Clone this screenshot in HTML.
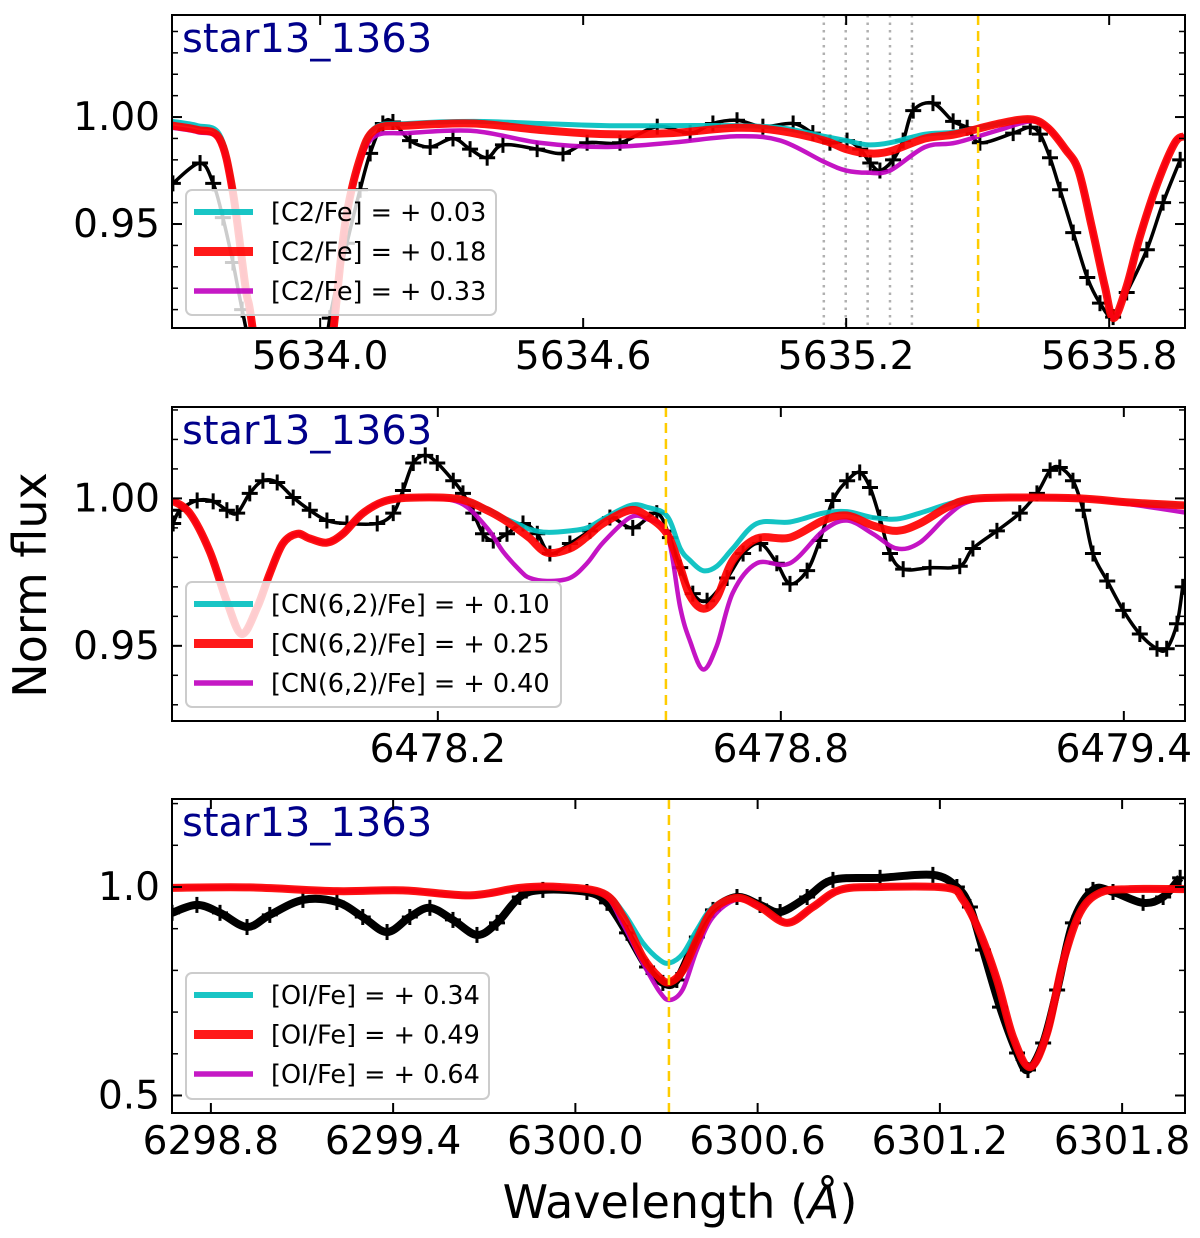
<!DOCTYPE html>
<html>
<head>
<meta charset="utf-8">
<style>
  html,body{margin:0;padding:0;background:#fff;}
  svg{display:block;font-family:"DejaVu Sans","Liberation Sans",sans-serif;}
</style>
</head>
<body>
<svg id="chart" width="1200" height="1238" viewBox="0 0 1200 1238" xmlns="http://www.w3.org/2000/svg"></svg>
<script>
// ---------------- Panel 1 data (C2 5635 Å) ----------------
const p1SynW = [5633.662,5633.72,5633.77,5633.80,5633.83,5633.85,5633.94,5634.01,5634.03,5634.057,5634.09,5634.125,5634.2,5634.35,5634.5,5634.65,5634.8,5634.95,5635.05,5635.15,5635.2,5635.25,5635.3,5635.38,5635.45,5635.55,5635.62,5635.66,5635.70,5635.73,5635.76,5635.79,5635.81,5635.84,5635.87,5635.91,5635.95,5635.973];
const p1Red  = [0.996,0.994,0.990,0.966,0.920,0.895,0.750,0.870,0.900,0.950,0.980,0.994,0.996,0.997,0.994,0.992,0.9925,0.995,0.9935,0.989,0.985,0.983,0.984,0.990,0.992,0.997,0.999,0.995,0.985,0.975,0.949,0.921,0.906,0.921,0.944,0.969,0.988,0.991];
const p1Cyan = [0.998,0.996,0.992,0.968,0.920,0.895,0.750,0.870,0.900,0.950,0.980,0.995,0.997,0.998,0.997,0.996,0.996,0.996,0.995,0.991,0.989,0.987,0.988,0.992,0.993,0.997,0.999,0.995,0.985,0.975,0.949,0.921,0.906,0.921,0.944,0.969,0.988,0.991];
const p1Mag  = [0.995,0.993,0.989,0.964,0.920,0.895,0.750,0.870,0.900,0.950,0.978,0.991,0.9925,0.9935,0.988,0.986,0.988,0.991,0.989,0.979,0.975,0.974,0.975,0.986,0.988,0.994,0.998,0.995,0.985,0.975,0.949,0.921,0.906,0.921,0.944,0.969,0.988,0.991];
const p1ObsW = [5633.664,5633.726,5633.756,5633.778,5633.801,5633.822,5633.863,5633.943,5634.0,5634.022,5634.061,5634.091,5634.114,5634.143,5634.166,5634.205,5634.251,5634.303,5634.342,5634.381,5634.417,5634.495,5634.554,5634.609,5634.684,5634.769,5634.844,5634.896,5634.951,5635.010,5635.079,5635.124,5635.163,5635.202,5635.232,5635.255,5635.277,5635.307,5635.330,5635.353,5635.398,5635.444,5635.476,5635.505,5635.581,5635.620,5635.642,5635.665,5635.688,5635.718,5635.750,5635.779,5635.809,5635.840,5635.886,5635.923,5635.962];
const p1ObsF = [0.969,0.9785,0.969,0.953,0.932,0.910,0.870,0.800,0.870,0.906,0.941,0.966,0.983,0.997,0.9977,0.989,0.986,0.990,0.985,0.981,0.987,0.985,0.983,0.988,0.988,0.9955,0.9925,0.997,0.9985,0.9955,0.997,0.9925,0.988,0.989,0.985,0.9785,0.975,0.980,0.989,1.003,1.0065,0.998,0.995,0.988,0.9925,0.9953,0.992,0.981,0.966,0.946,0.925,0.913,0.9065,0.918,0.938,0.960,0.980];
const p1Ticks = [5634.0,5634.6,5635.2,5635.8];
const p1TickLabels = ["5634.0","5634.6","5635.2","5635.8"];
const p1YTicks = [0.95,1.00];
const p1YTickLabels = ["0.95","1.00"];
const p1Dotted = [5635.149,5635.199,5635.249,5635.300,5635.350];
const p1Yellow = [5635.501];
const p1Legend = ["[C2/Fe] = + 0.03","[C2/Fe] = + 0.18","[C2/Fe] = + 0.33"];

// ---------------- Panel 2 data (CN 6478 Å) ----------------
const p2SynW = [6477.735,6477.766,6477.801,6477.831,6477.857,6477.884,6477.906,6477.929,6477.954,6477.976,6478.006,6478.034,6478.069,6478.111,6478.169,6478.239,6478.286,6478.314,6478.344,6478.361,6478.391,6478.431,6478.461,6478.489,6478.536,6478.566,6478.601,6478.624,6478.641,6478.664,6478.688,6478.716,6478.758,6478.816,6478.874,6478.916,6478.961,6479.003,6479.043,6479.091,6479.131,6479.206,6479.323,6479.411,6479.507];
const p2Red  = [0.9993,0.995,0.982,0.965,0.954,0.963,0.9745,0.9847,0.988,0.9864,0.985,0.988,0.995,0.9993,1.0003,0.9997,0.996,0.993,0.989,0.9865,0.9816,0.983,0.987,0.9915,0.996,0.994,0.988,0.9765,0.967,0.9626,0.9663,0.979,0.9864,0.9867,0.9925,0.9942,0.9908,0.989,0.9915,0.997,0.9997,1.0003,1.0,0.9986,0.9976];
const p2Cyan = [0.9993,0.995,0.982,0.965,0.954,0.963,0.9745,0.9847,0.988,0.9864,0.985,0.988,0.995,0.9993,1.0003,0.9997,0.9965,0.9935,0.991,0.9895,0.9885,0.989,0.990,0.993,0.9976,0.997,0.994,0.983,0.979,0.9755,0.977,0.983,0.9915,0.992,0.995,0.9955,0.9935,0.993,0.995,0.998,0.9997,1.0003,1.0,0.9986,0.9976];
const p2Mag  = [0.9993,0.995,0.982,0.965,0.954,0.963,0.9745,0.9847,0.988,0.9864,0.985,0.988,0.995,0.9993,1.0003,0.9985,0.990,0.982,0.9755,0.973,0.972,0.973,0.978,0.985,0.9935,0.993,0.988,0.963,0.9517,0.942,0.950,0.968,0.978,0.978,0.989,0.9925,0.988,0.983,0.985,0.994,0.999,1.0003,1.0,0.998,0.9952];
const p2ObsW = [6477.737,6477.749,6477.779,6477.807,6477.831,6477.849,6477.871,6477.894,6477.919,6477.947,6477.976,6478.006,6478.041,6478.094,6478.122,6478.139,6478.157,6478.178,6478.199,6478.227,6478.244,6478.262,6478.279,6478.297,6478.321,6478.349,6478.374,6478.396,6478.431,6478.466,6478.501,6478.541,6478.583,6478.606,6478.624,6478.646,6478.671,6478.706,6478.734,6478.764,6478.793,6478.816,6478.846,6478.868,6478.891,6478.916,6478.938,6478.956,6478.973,6478.991,6479.014,6479.061,6479.113,6479.136,6479.178,6479.218,6479.248,6479.271,6479.288,6479.311,6479.329,6479.346,6479.371,6479.399,6479.428,6479.458,6479.475,6479.493,6479.503];
const p2ObsF = [0.9915,0.996,0.9993,0.999,0.996,0.995,1.0017,1.006,1.0054,1.0003,0.996,0.9925,0.9915,0.9915,0.995,1.0027,1.012,1.0146,1.012,1.006,1.0017,0.995,0.988,0.9857,0.988,0.9915,0.988,0.9813,0.9847,0.989,0.9935,0.990,0.995,0.9867,0.9765,0.9677,0.9653,0.973,0.9813,0.9847,0.978,0.971,0.9755,0.9857,0.9993,1.006,1.0088,1.0037,0.9935,0.9813,0.976,0.9765,0.977,0.983,0.989,0.995,1.0017,1.0095,1.0105,1.006,0.996,0.9813,0.972,0.962,0.954,0.949,0.949,0.9575,0.970];
const p2Ticks = [6478.2,6478.8,6479.4];
const p2TickLabels = ["6478.2","6478.8","6479.4"];
const p2YTicks = [0.95,1.00];
const p2YTickLabels = ["0.95","1.00"];
const p2Yellow = [6478.599];
const p2Legend = ["[CN(6,2)/Fe] = + 0.10","[CN(6,2)/Fe] = + 0.25","[CN(6,2)/Fe] = + 0.40"];

// ---------------- Panel 3 data ([OI] 6300 Å) ----------------
const p3SynW = [6298.672,6298.928,6299.215,6299.432,6299.653,6299.817,6299.949,6300.091,6300.157,6300.222,6300.278,6300.311,6300.354,6300.400,6300.453,6300.532,6300.608,6300.697,6300.782,6300.871,6301.003,6301.223,6301.276,6301.332,6301.388,6301.441,6301.497,6301.553,6301.605,6301.661,6301.727,6301.826,6302.007];
const p3Red  = [0.998,0.999,0.990,0.992,0.980,0.998,1.0,0.985,0.928,0.832,0.782,0.772,0.800,0.873,0.945,0.974,0.952,0.914,0.952,0.993,1.0,0.998,0.969,0.89,0.777,0.64,0.568,0.65,0.818,0.938,0.986,0.995,0.995];
const p3Cyan = [0.998,0.999,0.990,0.992,0.980,0.998,1.0,0.987,0.940,0.866,0.825,0.818,0.840,0.897,0.952,0.974,0.952,0.914,0.952,0.993,1.0,0.998,0.969,0.89,0.777,0.64,0.568,0.65,0.818,0.938,0.986,0.995,0.995];
const p3Mag  = [0.998,0.999,0.990,0.992,0.977,0.998,1.0,0.983,0.910,0.818,0.748,0.729,0.755,0.849,0.928,0.970,0.952,0.914,0.952,0.993,1.0,0.998,0.969,0.89,0.777,0.64,0.568,0.65,0.818,0.938,0.986,0.995,0.995];
const p3ObsW = [6298.672,6298.754,6298.830,6298.919,6298.994,6299.103,6299.215,6299.300,6299.380,6299.455,6299.521,6299.597,6299.676,6299.742,6299.817,6299.893,6300.038,6300.104,6300.170,6300.236,6300.288,6300.334,6300.400,6300.453,6300.532,6300.608,6300.674,6300.763,6300.848,6301.003,6301.177,6301.256,6301.299,6301.342,6301.398,6301.454,6301.490,6301.540,6301.586,6301.638,6301.704,6301.770,6301.869,6301.935,6301.991];
const p3ObsF = [0.938,0.957,0.938,0.904,0.933,0.969,0.964,0.928,0.892,0.928,0.950,0.921,0.885,0.914,0.976,0.993,0.988,0.962,0.890,0.808,0.770,0.777,0.880,0.945,0.976,0.957,0.940,0.976,1.017,1.022,1.029,1.000,0.952,0.849,0.712,0.602,0.561,0.626,0.753,0.914,0.993,0.988,0.962,0.976,1.022];
const p3Ticks = [6298.8,6299.4,6300.0,6300.6,6301.2,6301.8];
const p3TickLabels = ["6298.8","6299.4","6300.0","6300.6","6301.2","6301.8"];
const p3YTicks = [0.5,1.0];
const p3YTickLabels = ["0.5","1.0"];
const p3Yellow = [6300.308];
const p3Legend = ["[OI/Fe] = + 0.34","[OI/Fe] = + 0.49","[OI/Fe] = + 0.64"];

// ---------------- rendering ----------------
const NS = "http://www.w3.org/2000/svg";
const svg = document.getElementById("chart");
function mk(tag, attrs, parent){
  const e = document.createElementNS(NS, tag);
  for (const k in attrs) e.setAttribute(k, attrs[k]);
  (parent||svg).appendChild(e);
  return e;
}
function linear(d0,d1,r0,r1){ return v => r0 + (v-d0)/(d1-d0)*(r1-r0); }
function smoothPath(pts){
  if (pts.length<2) return "";
  let d = "M"+pts[0][0].toFixed(2)+","+pts[0][1].toFixed(2);
  for (let i=0;i<pts.length-1;i++){
    const p0 = pts[Math.max(0,i-1)], p1 = pts[i], p2 = pts[i+1], p3 = pts[Math.min(pts.length-1,i+2)];
    const c1x = p1[0]+(p2[0]-p0[0])/6, c1y = p1[1]+(p2[1]-p0[1])/6;
    const c2x = p2[0]-(p3[0]-p1[0])/6, c2y = p2[1]-(p3[1]-p1[1])/6;
    d += " C"+c1x.toFixed(2)+","+c1y.toFixed(2)+" "+c2x.toFixed(2)+","+c2y.toFixed(2)+" "+p2[0].toFixed(2)+","+p2[1].toFixed(2);
  }
  return d;
}

const L = 172, R = 1185;
const panels = [
  {id:"c2", top:15, bottom:328, xd:[5633.662,5635.973], yd:[0.9014,1.0477], minorStep:0.01,
   synW:p1SynW, cyan:p1Cyan, red:p1Red, mag:p1Mag, obsW:p1ObsW, obsF:p1ObsF,
   ticks:p1Ticks, tickLabels:p1TickLabels, yticks:p1YTicks, yLabels:p1YTickLabels,
   dotted:p1Dotted, yellow:p1Yellow, legend:p1Legend, leg:{x:186,y:190,w:310,h:125}, obsLW:3.5, mk:8},
  {id:"cn", top:407, bottom:721, xd:[6477.735,6479.507], yd:[0.9245,1.031], minorStep:0.01,
   synW:p2SynW, cyan:p2Cyan, red:p2Red, mag:p2Mag, obsW:p2ObsW, obsF:p2ObsF,
   ticks:p2Ticks, tickLabels:p2TickLabels, yticks:p2YTicks, yLabels:p2YTickLabels,
   dotted:[], yellow:p2Yellow, legend:p2Legend, leg:{x:186,y:582,w:375,h:125}, obsLW:3.5, mk:8},
  {id:"oi", top:799, bottom:1113, xd:[6298.672,6302.007], yd:[0.458,1.211], minorStep:0.1,
   synW:p3SynW, cyan:p3Cyan, red:p3Red, mag:p3Mag, obsW:p3ObsW, obsF:p3ObsF,
   ticks:p3Ticks, tickLabels:p3TickLabels, yticks:p3YTicks, yLabels:p3YTickLabels,
   dotted:[], yellow:p3Yellow, legend:p3Legend, leg:{x:186,y:973,w:303,h:126}, obsLW:8, mk:8}
];

const defs = mk("defs",{});
panels.forEach((P,pi)=>{
  const X = linear(P.xd[0],P.xd[1],L,R);
  const Y = linear(P.yd[0],P.yd[1],P.bottom,P.top);
  const g = mk("g",{});
  
  
  const cp = mk("clipPath",{id:"clip"+pi},defs);
  mk("rect",{x:L,y:P.top,width:R-L,height:P.bottom-P.top},cp);
  const plot = mk("g",{"clip-path":"url(#clip"+pi+")"},g);

  P.dotted.forEach(w=>{
    const l = mk("line",{x1:X(w),x2:X(w),y1:P.top,y2:P.bottom,stroke:"#b0b0b0","stroke-width":2.5,"stroke-dasharray":"2.5,5"},plot);
    
    
  });

  const obsPts = P.obsW.map((w,i)=>[X(w),Y(P.obsF[i])]);
  const op = mk("path",{d:smoothPath(obsPts),fill:"none",stroke:"#000","stroke-width":P.obsLW,"stroke-linejoin":"round"},plot);
  
  
  const mg = mk("g",{stroke:"#000","stroke-width":3},plot);
  
  
  obsPts.forEach(p=>{
    mk("line",{x1:p[0]-P.mk,x2:p[0]+P.mk,y1:p[1],y2:p[1]},mg);
    mk("line",{x1:p[0],x2:p[0],y1:p[1]-P.mk,y2:p[1]+P.mk},mg);
  });

  const series = [
    {vals:P.cyan,color:"#00bfbf",w:5,name:"synth-low"},
    {vals:P.red,color:"#ff0000",w:8,name:"synth-best"},
    {vals:P.mag,color:"#bf00bf",w:4.5,name:"synth-high"}
  ];
  [0,2,1].forEach(si=>{
    const s = series[si];
    const pts = P.synW.map((w,i)=>[X(w),Y(s.vals[i])]);
    const sp = mk("path",{d:smoothPath(pts),fill:"none",stroke:s.color,"stroke-width":s.w,"stroke-opacity":0.92,"stroke-linejoin":"round"},plot);
    
    
  });

  P.yellow.forEach(w=>{
    const l = mk("line",{x1:X(w),x2:X(w),y1:P.top,y2:P.bottom,stroke:"#ffcc00","stroke-width":2.5,"stroke-dasharray":"10,6"},plot);
    
    
  });

  const lg = mk("g",{},g);
  
  
  mk("rect",{x:P.leg.x,y:P.leg.y,width:P.leg.w,height:P.leg.h,rx:6,fill:"rgba(255,255,255,0.8)",stroke:"#cccccc","stroke-width":2},lg);
  P.legend.forEach((txt,i)=>{
    const cy = P.leg.y + 22 + i*39.5;
    const ln = mk("line",{x1:P.leg.x+8,x2:P.leg.x+67,y1:cy,y2:cy,stroke:series[i].color,"stroke-width":series[i].w+1,"stroke-opacity":0.9},lg);
    
    
    const t = mk("text",{x:P.leg.x+85,y:cy+9,"font-size":25.5,fill:"#000"},lg);
    t.textContent = txt;
    
    
  });

  const sl = mk("text",{x:182,y:P.top+37,"font-size":40,fill:"#00008b"},g);
  sl.textContent = "star13_1363";
  
  

  const fr = mk("rect",{x:L,y:P.top,width:R-L,height:P.bottom-P.top,fill:"none",stroke:"#000","stroke-width":2},g);
  
  

  P.ticks.forEach((w,i)=>{
    const x = X(w);
    mk("line",{x1:x,x2:x,y1:P.bottom,y2:P.bottom-10,stroke:"#000","stroke-width":2},g);
    mk("line",{x1:x,x2:x,y1:P.top,y2:P.top+10,stroke:"#000","stroke-width":2},g);
    const t = mk("text",{x:x,y:P.bottom+41,"font-size":39,"text-anchor":"middle",fill:"#000"},g);
    t.textContent = P.tickLabels[i];
    
    
  });
  const n0 = Math.ceil(P.yd[0]/P.minorStep-1e-6), n1 = Math.floor(P.yd[1]/P.minorStep+1e-6);
  for (let n=n0;n<=n1;n++){
    const y = Y(n*P.minorStep);
    mk("line",{x1:L,x2:L+6,y1:y,y2:y,stroke:"#000","stroke-width":1.5},g);
    mk("line",{x1:R,x2:R-6,y1:y,y2:y,stroke:"#000","stroke-width":1.5},g);
  }
  P.yticks.forEach((v,i)=>{
    const y = Y(v);
    mk("line",{x1:L,x2:L+10,y1:y,y2:y,stroke:"#000","stroke-width":2},g);
    mk("line",{x1:R,x2:R-10,y1:y,y2:y,stroke:"#000","stroke-width":2},g);
    const t = mk("text",{x:160,y:y+13,"font-size":39,"text-anchor":"end",fill:"#000"},g);
    t.textContent = P.yLabels[i];
    
    
  });
});

const yl = mk("text",{x:0,y:0,"font-size":46,"text-anchor":"middle",transform:"translate(46,585) rotate(-90)",fill:"#000"});
yl.textContent = "Norm flux";


const xl = mk("text",{x:680,y:1218,"font-size":46,"text-anchor":"middle",fill:"#000"});
xl.innerHTML = 'Wavelength (<tspan font-style="italic">Å</tspan>)';


</script>
</body>
</html>
